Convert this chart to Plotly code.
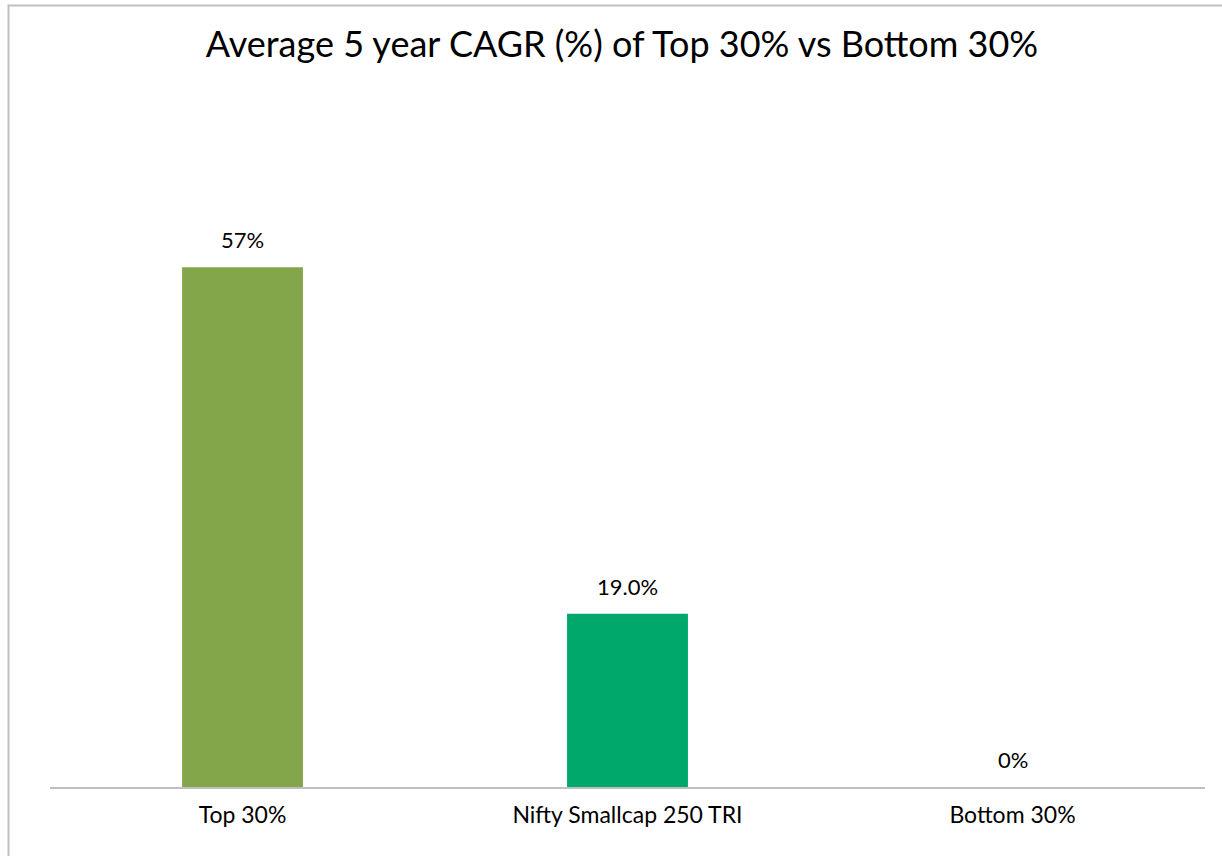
import plotly.graph_objects as go

categories = ["Top 30%", "Nifty Smallcap 250 TRI", "Bottom 30%"]
values = [57.0, 19.0, 0.0]
value_labels = ["57%", "19.0%", "0%"]
colors = ["#84A64B", "#00A86C", "#00A86C"]

W, H = 1222, 856
L, R, T, B = 50, 17, 103, 69
plot_h = H - T - B
plot_w = W - L - R

fig = go.Figure()
fig.add_trace(go.Bar(
    x=categories, y=values, marker=dict(color=colors, line=dict(width=0)),
    width=0.314, hoverinfo="skip", showlegend=False,
))
for c, v, t in zip(categories, values, value_labels):
    fig.add_annotation(x=c, y=v, text=t, showarrow=False, yanchor="bottom",
                       yshift=12, font=dict(size=22, color="#000000"))

fig.update_layout(
    width=W, height=H,
    margin=dict(l=L, r=R, t=T, b=B, autoexpand=False),
    paper_bgcolor="white", plot_bgcolor="white",
    font=dict(family="Lato, sans-serif", color="#000000"),
    title=dict(text="Average 5 year CAGR (%) of Top 30% vs Bottom 30%",
               x=622 / W, xanchor="center", y=1 - 44 / H, yanchor="middle",
               font=dict(size=36, color="#000000")),
    xaxis=dict(showgrid=False, showline=True, linecolor="#BFBFBF", linewidth=2,
               ticks="", tickfont=dict(size=23), ticklabelstandoff=6,
               fixedrange=True),
    yaxis=dict(range=[0, 75], visible=False, showgrid=False, zeroline=False,
               fixedrange=True),
    bargap=0.686,
)
# chart border
fig.add_shape(type="rect", xref="paper", yref="paper",
              x0=(8.5 - L) / plot_w, x1=(W + 20 - L) / plot_w,
              y0=(H - B - (H + 20)) / plot_h, y1=(H - B - 5.5) / plot_h,
              line=dict(color="#BFBFBF", width=2), layer="below")

fig.write_html("out.html", config={"displayModeBar": False},
               post_script="document.body.style.margin='0';")
